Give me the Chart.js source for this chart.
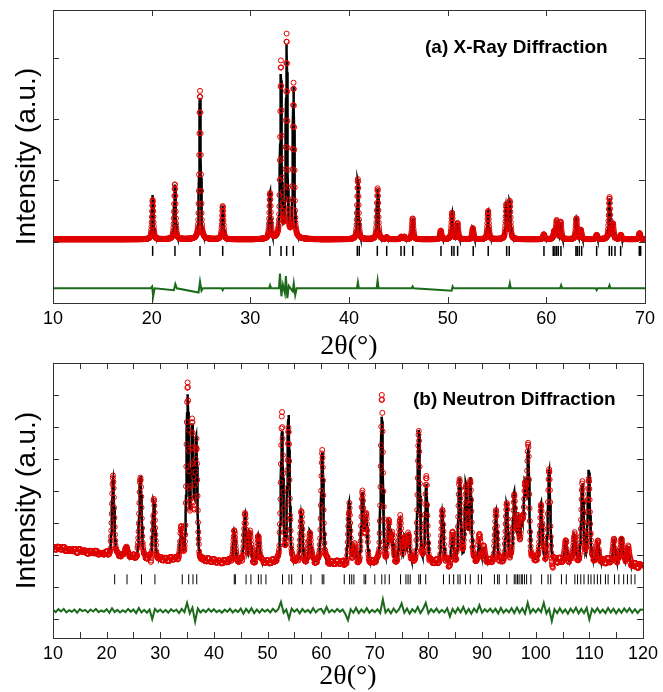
<!DOCTYPE html>
<html>
<head>
<meta charset="utf-8">
<script src="https://cdn.jsdelivr.net/npm/chart.js@4.4.1/dist/chart.umd.min.js"></script>
<style>
html, body { margin: 0; padding: 0; background: #fff; }
#wrap { position: relative; width: 663px; height: 692px; overflow: hidden; }
canvas { position: absolute; left: 0; }
#ca { top: 0; }
#cb { top: 346px; }
.lab { position: absolute; font: bold 19px "Liberation Sans", Arial, sans-serif; line-height: 19px; white-space: nowrap; color: #000; }
</style>
</head>
<body>
<div id="wrap">
  <canvas id="ca" width="663" height="370"></canvas>
  <canvas id="cb" width="663" height="346"></canvas>
  <div class="lab" style="left:425px;top:37px">(a) X-Ray Diffraction</div>
  <div class="lab" style="left:413px;top:389px">(b) Neutron Diffraction</div>
</div>
<script>
// ---- (a) x-ray: peaks (2theta, calc height, obs height above background)
const xrayPeakPos  = [20.10, 22.35, 24.90, 27.20, 32.00, 33.10, 33.68, 34.38, 40.90, 42.90, 43.82, 45.30, 45.60, 46.45, 49.30, 50.45, 51.00, 52.55, 54.10, 55.95, 56.30, 59.75, 60.80, 61.05, 61.45, 63.05, 63.50, 65.10, 66.40, 66.75, 67.55, 69.45];
const xrayCalcH    = [0.72, 0.90, 2.30, 0.54, 0.75, 2.65, 3.13, 2.46, 0.96, 0.82, 0.03, 0.04, 0.04, 0.34, 0.14, 0.42, 0.26, 0.18, 0.45, 0.56, 0.60, 0.08, 0.12, 0.30, 0.28, 0.34, 0.15, 0.07, 0.66, 0.24, 0.07, 0.10];
const xrayObsH     = [0.64, 0.90, 2.42, 0.54, 0.74, 2.87, 3.30, 2.52, 0.98, 0.83, 0.03, 0.04, 0.04, 0.34, 0.14, 0.43, 0.26, 0.18, 0.46, 0.56, 0.61, 0.08, 0.12, 0.30, 0.28, 0.34, 0.15, 0.07, 0.68, 0.24, 0.07, 0.10];
const xrayBackground = 1.04;
const xrayBragg = [20.10, 22.36, 24.90, 27.20, 31.99, 33.11, 33.68, 34.35, 40.84, 41.04, 42.87, 43.82, 45.27, 45.61, 46.46, 49.32, 50.41, 50.64, 51.01, 52.59, 54.11, 55.98, 56.24, 59.76, 60.70, 60.87, 61.04, 61.21, 61.48, 63.00, 63.13, 63.34, 63.58, 65.10, 66.38, 66.62, 66.96, 67.53, 69.42, 69.56];
// difference curve: [2theta, obs-calc in 1/100 of a tick]
const xrayDiff = [[10,0],[19.9,0],[20.05,3],[20.15,-13],[20.3,0],[22.25,-3],[22.4,7],[22.55,0],[24.75,-7],[24.9,11],[25.05,-4],[25.2,0],[27.1,0],[27.2,-3],[27.3,0],[31.9,0],[32.0,5],[32.1,0],[32.9,0],[33.0,24],[33.15,-13],[33.3,6],[33.5,-8],[33.6,20],[33.75,-16],[33.9,4],[34.3,-5],[34.4,8],[34.55,-11],[34.7,0],[40.8,0],[40.9,10],[41.0,0],[42.8,0],[42.9,13],[43.0,0],[46.35,0],[46.45,3],[46.55,0],[50.4,-4],[50.5,3],[50.6,0],[56.2,0],[56.3,8],[56.4,0],[61.4,0],[61.5,5],[61.6,0],[65.0,0],[65.1,-3],[65.2,0],[66.3,0],[66.4,5],[66.5,0],[70,0]];

// ---- (b) neutron
const neutronPeakPos = [21.2, 23.6, 26.3, 28.8, 33.9, 35.1, 35.95, 36.7, 43.8, 45.8, 46.7, 48.3, 52.7, 53.9, 56.3, 57.9, 60.2, 65.2, 66.2, 67.7, 68.4, 71.3, 72.6, 73.2, 74.7, 75.6, 76.3, 78.2, 79.6, 82.6, 84.5, 85.8, 87.0, 87.8, 89.5, 90.3, 92.6, 94.6, 96.0, 96.7, 97.4, 98.0, 98.6, 101.0, 102.5, 105.6, 107.2, 108.7, 109.9, 111.6, 114.6, 116.0, 117.2];
const neutronCalcH   = [2.35, 0.30, 2.55, 1.78, 0.90, 5.06, 4.05, 3.70, 0.95, 1.45, 0.90, 0.86, 4.05, 4.56, 1.53, 0.98, 3.45, 1.87, 0.50, 2.17, 1.40, 4.56, 1.20, 0.85, 1.27, 0.80, 0.92, 4.14, 2.44, 1.62, 0.88, 2.62, 2.40, 2.60, 0.68, 0.45, 1.56, 1.77, 2.10, 1.20, 1.10, 2.30, 3.30, 1.78, 2.80, 0.60, 0.80, 2.40, 2.82, 0.55, 0.65, 0.80, 0.50];
const neutronObsH    = [2.40, 0.30, 2.55, 1.80, 0.92, 5.18, 4.10, 3.72, 0.95, 1.45, 0.90, 0.86, 4.37, 4.40, 1.53, 0.98, 3.47, 1.87, 0.50, 2.17, 1.40, 4.88, 1.20, 0.85, 1.27, 0.80, 0.92, 3.99, 2.44, 1.62, 0.88, 2.62, 2.40, 2.60, 0.68, 0.45, 1.56, 1.77, 2.10, 1.20, 1.10, 2.30, 3.30, 1.78, 2.80, 0.60, 0.80, 2.40, 2.82, 0.55, 0.65, 0.80, 0.50];
const neutronBgX = [10, 15, 20, 25, 30, 40, 50, 60, 70, 80, 90, 100, 110, 115, 120];
const neutronBgY = [2.22, 2.12, 2.02, 1.93, 1.86, 1.79, 1.76, 1.74, 1.73, 1.73, 1.75, 1.79, 1.80, 1.78, 1.64];
const neutronBragg = [21.5, 23.8, 26.5, 29.0, 34.1, 35.3, 36.1, 36.8, 43.8, 44.0, 46.0, 46.9, 48.3, 48.8, 49.7, 52.8, 54.0, 54.5, 56.5, 58.1, 60.2, 60.5, 64.3, 65.3, 65.7, 66.1, 68.0, 68.3, 70.0, 71.3, 71.9, 72.7, 74.8, 75.8, 76.2, 76.6, 78.2, 78.5, 79.5, 82.8, 83.9, 84.7, 85.5, 85.9, 86.9, 87.8, 89.3, 89.9, 92.3, 92.9, 93.2, 94.6, 96.0, 96.3, 96.6, 96.9, 97.3, 97.5, 97.9, 98.3, 99.1, 101.1, 102.3, 102.8, 104.8, 105.7, 107.3, 107.8, 108.4, 109.0, 109.8, 110.3, 110.9, 111.5, 112.1, 113.0, 113.5, 114.7, 115.5, 116.4, 117.1, 117.8, 118.5];
// difference, every 0.5 deg from 10 to 120, in 1/100 of a tick
const neutronDiff = [
  3,-4,5,-2,6,-5,2,-3,4,-6,5,-1,3,-5,4,-2,6,-4,1,-3,
  5,-6,8,-4,3,-5,2,-4,6,-3,4,-7,9,-5,3,-6,4,-26,6,-3,
  4,-5,3,-6,5,-2,4,-7,6,-4,25,-8,10,-34,7,-5,3,-4,6,-3,
  5,-4,2,-6,4,-3,6,-5,3,-4,7,-9,6,-5,8,-7,4,-6,5,-3,
  4,-5,6,-3,5,28,-6,4,-24,7,-3,5,-8,6,-4,3,-6,8,-5,4,
  6,-8,12,-5,3,-4,6,-3,4,-10,-29,5,-6,9,-7,4,-5,8,-6,3,
  -4,5,-7,36,-6,5,-8,7,-5,4,23,-6,7,-9,5,-4,12,-7,6,25,
  -8,5,-4,7,-6,3,-5,8,-18,6,-7,9,-5,12,-8,6,-9,7,-4,18,
  -6,5,-3,7,-5,6,-8,9,-6,4,-5,8,-7,10,-6,8,-9,25,-7,6,
  -5,7,-4,25,-8,6,-32,5,-7,8,-6,4,-9,7,-5,10,-8,6,-7,9,
  -27,6,-5,8,-6,4,-7,9,-5,6,-8,5,-6,7,-4,8,-6,5,-7,4,
  3];

const RED = '#e00000';
const GREEN = '#1a6a1a';

// pseudo-voigt peak sum
function peaks(x, pos, h, fwhm, eta) {
  let s = 0;
  for (let k = 0; k < pos.length; k++) {
    const d = (x - pos[k]) / fwhm;
    if (Math.abs(d) > 15) continue;
    s += h[k] * (eta / (1 + 4 * d * d) + (1 - eta) * Math.exp(-2.7726 * d * d));
  }
  return s;
}
function neutronBg(x) {
  for (let k = 1; k < neutronBgX.length; k++) {
    if (x <= neutronBgX[k]) {
      const t = (x - neutronBgX[k - 1]) / (neutronBgX[k] - neutronBgX[k - 1]);
      return neutronBgY[k - 1] + t * (neutronBgY[k] - neutronBgY[k - 1]);
    }
  }
  return neutronBgY[neutronBgY.length - 1];
}

// build point lists
const xrayCalc = [], xrayObs = [];
for (let i = 0; i <= 3000; i++) {
  const x = 10 + i * 0.02;
  xrayCalc.push({x, y: xrayBackground + peaks(x, xrayPeakPos, xrayCalcH, 0.18, 0.5)});
  xrayObs.push({x, y: xrayBackground + peaks(x, xrayPeakPos, xrayObsH, 0.18, 0.5)});
}
const xrayDiffPts = xrayDiff.map(p => ({x: p[0], y: 0.24 + p[1] / 100}));
const xrayTickPts = xrayBragg.map(v => ({x: v, y: 0.85}));

const neutronCalc = [], neutronObs = [];
for (let i = 0; i <= 2200; i++) {
  const x = 10 + i * 0.05;
  const bg = neutronBg(x);
  neutronCalc.push({x, y: bg + peaks(x, neutronPeakPos, neutronCalcH, 0.5, 0.3)});
  neutronObs.push({x, y: bg + peaks(x, neutronPeakPos, neutronObsH, 0.5, 0.3) + neutronDiff[Math.round((x - 10) / 0.5)] / 100});
}
const neutronDiffPts = neutronDiff.map((v, i) => ({x: 10 + i * 0.5, y: 0.25 + v / 100}));
const neutronTickPts = neutronBragg.map(v => ({x: v, y: 1.235}));

// box with inward ticks on all four sides
const frame = {
  id: 'frame',
  afterDatasetsDraw(chart, args, opts) {
    const {ctx, chartArea: a, scales: {x, y}} = chart;
    const L = 6;
    ctx.save();
    ctx.strokeStyle = '#333';
    ctx.lineWidth = 1;
    ctx.strokeRect(a.left + 0.5, a.top + 0.5, a.right - a.left, a.bottom - a.top);
    ctx.beginPath();
    opts.xt.forEach(v => {
      const px = Math.round(x.getPixelForValue(v)) + 0.5;
      ctx.moveTo(px, a.bottom); ctx.lineTo(px, a.bottom - L);
      ctx.moveTo(px, a.top); ctx.lineTo(px, a.top + L);
    });
    opts.yt.forEach(v => {
      const py = Math.round(y.getPixelForValue(v)) + 0.5;
      ctx.moveTo(a.left, py); ctx.lineTo(a.left + L, py);
      ctx.moveTo(a.right, py); ctx.lineTo(a.right - L, py);
    });
    ctx.stroke();
    ctx.restore();
  }
};

Chart.defaults.font.family = '"Liberation Sans", Arial, sans-serif';
Chart.defaults.color = '#000';

function makeChart(id, cfg) {
  return new Chart(document.getElementById(id), {
    type: 'scatter',
    data: { datasets: [
      { data: cfg.calc, showLine: true, borderColor: '#000', borderWidth: 2.5, pointRadius: 0, order: 3 },
      { data: cfg.obs, showLine: false, pointRadius: 2.5, pointBorderWidth: 1, pointBorderColor: RED, pointBackgroundColor: 'rgba(0,0,0,0)', order: 2 },
      { data: cfg.ticks, showLine: false, pointStyle: 'line', pointRotation: 90, pointRadius: 5, pointBorderWidth: cfg.tickW, pointBorderColor: '#000', order: 1 },
      { data: cfg.diff, showLine: true, borderColor: GREEN, borderWidth: 2, pointRadius: 0, order: 0 }
    ]},
    plugins: [frame],
    options: {
      animation: false, responsive: false, devicePixelRatio: 1, events: [],
      layout: { padding: { top: cfg.top, right: 18, left: 0, bottom: 0 } },
      plugins: { legend: { display: false }, tooltip: { enabled: false }, frame: { xt: cfg.xt, yt: cfg.yt } },
      scales: {
        x: {
          type: 'linear', min: cfg.xmin, max: cfg.xmax,
          afterFit: s => { s.height = cfg.xh; },
          ticks: { stepSize: cfg.step, padding: 5, font: { size: 18 }, maxRotation: 0, autoSkip: false,
                   callback: v => (v % 10 === 0 ? v : '') },
          grid: { display: false, drawTicks: false }, border: { display: false },
          title: { display: true, text: '2θ(°)', font: { family: '"Liberation Serif", "Times New Roman", serif', size: 28, lineHeight: 1 },
                   padding: { top: 0, bottom: cfg.titlePad } }
        },
        y: {
          type: 'linear', min: cfg.ymin, max: cfg.ymax,
          afterFit: s => { s.width = 53; },
          ticks: { display: false },
          grid: { display: false, drawTicks: false }, border: { display: false },
          title: { display: true, text: 'Intensity (a.u.)', font: { size: 28, lineHeight: 1 }, padding: { top: 13, bottom: 0 } }
        }
      }
    }
  });
}

makeChart('ca', {
  calc: xrayCalc, obs: xrayObs, ticks: xrayTickPts, diff: xrayDiffPts, tickW: 1.5,
  top: 10, xh: 67, titlePad: 9, xmin: 10, xmax: 70, step: 10, ymin: 0, ymax: 4.78,
  xt: [20, 30, 40, 50, 60], yt: [1, 2, 3, 4]
});
makeChart('cb', {
  calc: neutronCalc, obs: neutronObs, ticks: neutronTickPts, diff: neutronDiffPts, tickW: 1,
  top: 17, xh: 54, titlePad: 1, xmin: 10, xmax: 120, step: 5, ymin: -0.6, ymax: 8.0,
  xt: [15, 20, 25, 30, 35, 40, 45, 50, 55, 60, 65, 70, 75, 80, 85, 90, 95, 100, 105, 110, 115], yt: [0, 1, 2, 3, 4, 5, 6, 7]
});
</script>
</body>
</html>
